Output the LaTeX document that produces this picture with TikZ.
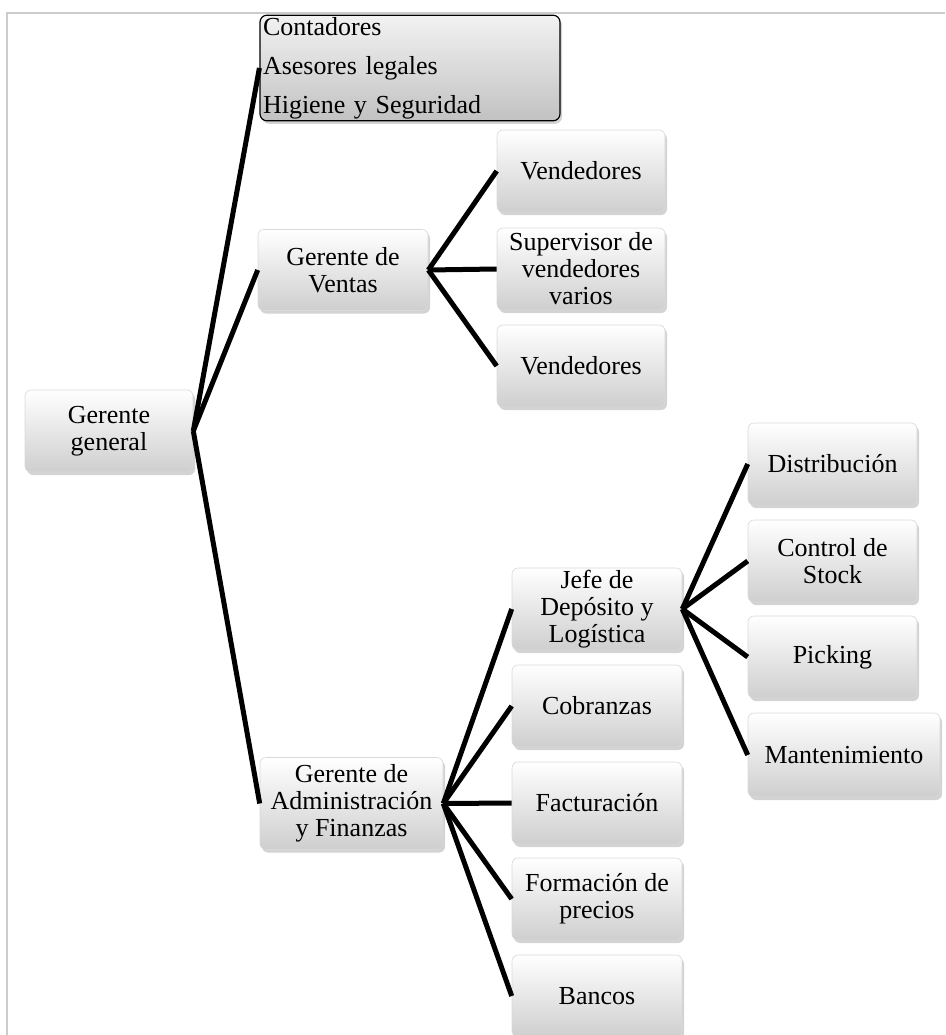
\documentclass[tikz,border=0pt]{standalone}
\usepackage{fontspec}
\setmainfont{Liberation Serif}
\usetikzlibrary{shadows}
\tikzset{
  cargo/.style={draw=gray!30, line width=0.6pt, rounded corners=6pt,
    top color=white, bottom color=gray!38, align=center,
    font=\fontsize{26}{27}\selectfont, inner sep=2pt,
    drop shadow={opacity=0.35, shadow xshift=2pt, shadow yshift=-3pt}},
  asesor/.style={draw=black, line width=1.2pt, rounded corners=7pt,
    top color=gray!10, bottom color=gray!48, align=left,
    font=\fontsize{26}{39}\selectfont, inner sep=2pt,
    minimum width=300pt, minimum height=103pt, text width=294pt,
    drop shadow={opacity=0.35, shadow xshift=2pt, shadow yshift=-3pt}},
  rama/.style={line width=5pt, black}
}
\begin{document}
\begin{tikzpicture}[x=1pt,y=-1pt]
\useasboundingbox (0,0) rectangle (945,1035);
\draw[gray!40, line width=1.5pt] (7,1035) -- (7,13) -- (945,13);
% primer nivel
\node[cargo, minimum width=168pt, minimum height=82pt] (general) at (109,431) {Gerente\\general};
\node[asesor] (staff) at (410,68) {Contadores\\Asesores legales\\Higiene y Seguridad};
\node[cargo, minimum width=170pt, minimum height=81pt] (ventas) at (343,270) {Gerente de\\Ventas};
\node[cargo, minimum width=183pt, minimum height=92pt] (admin) at (351.5,803.5) {Gerente de\\Administración\\y Finanzas};
% ventas
\foreach \n/\y/\t in {vend1/171/Vendedores, super/269/{Supervisor de\\vendedores\\varios}, vend2/366/Vendedores}
  \node[cargo, minimum width=168pt, minimum height=82pt] (\n) at (581,\y) {\t};
% administracion
\foreach \n/\y/\t in {jefe/609/{Jefe de\\Depósito y\\Logística}, cobranzas/706/Cobranzas, factura/803/Facturación, precios/899/{Formación de\\precios}, bancos/996/Bancos}
  \node[cargo, minimum width=170pt, minimum height=82pt] (\n) at (597,\y) {\t};
% deposito
\foreach \n/\y/\t in {distrib/464/Distribución, stock/561/{Control de\\Stock}, picking/657/Picking}
  \node[cargo, minimum width=169pt, minimum height=82pt] (\n) at (832.5,\y) {\t};
\node[cargo, minimum width=192pt, minimum height=84pt] (mant) at (844,755) {Mantenimiento};
% ramas
\foreach \c in {staff,ventas,admin}
  \draw[rama] (general.east) -- (\c.west);
\foreach \c in {vend1,super,vend2}
  \draw[rama] (ventas.east) -- (\c.west);
\foreach \c in {jefe,cobranzas,factura,precios,bancos}
  \draw[rama] (admin.east) -- (\c.west);
\foreach \c in {distrib,stock,picking,mant}
  \draw[rama] (jefe.east) -- (\c.west);
\end{tikzpicture}
\end{document}
